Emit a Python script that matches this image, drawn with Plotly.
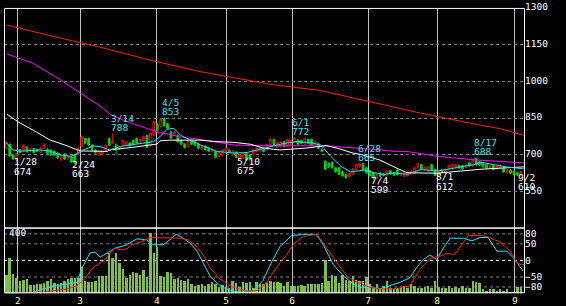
import plotly.graph_objects as go

# ---------------- data ----------------
opens = [727,743,699,679,721,715,731,717,725,721,711,727,723,719,715,707,679,703,683,691,
         699,703,734,767,767,740,720,700,704,717,767,747,741,723,739,741,749,759,767,747,
         759,779,739,779,827,815,849,827,793,780,779,759,743,734,760,753,743,724,735,727,
         714,714,694,700,714,719,699,711,680,687,707,700,701,714,716,727,721,741,763,731,
         734,754,734,743,752,760,758,744,763,763,741,744,723,674,665,670,647,647,631,620,
         611,621,640,651,664,647,635,627,603,625,622,617,635,625,639,618,613,615,621,624,
         647,660,640,634,660,640,620,638,625,643,648,650,657,656,648,668,655,686,671,667,
         660,647,656,643,647,647,627,638,633,627,620]
highs = [755,747,703,707,725,743,735,729,729,727,731,747,727,723,719,711,703,707,699,695,
         703,731,779,771,771,744,724,718,718,744,771,788,747,737,763,757,753,763,771,767,
         779,783,791,839,831,849,853,831,797,797,783,763,747,764,764,757,747,739,739,731,
         727,718,718,724,731,723,719,715,704,711,711,704,725,731,734,731,745,767,767,754,
         758,758,767,762,772,764,762,770,767,767,758,748,727,678,669,674,651,651,635,624,
         627,647,663,665,664,651,639,631,623,629,626,637,639,629,643,629,631,633,638,651,
         668,664,654,655,664,644,635,642,644,660,664,664,661,660,664,672,683,688,675,671,
         664,660,660,658,661,651,644,642,637,631,636]
lows = [723,691,679,674,705,711,709,713,705,711,707,723,703,695,695,683,675,679,679,667,
        663,699,731,743,736,716,705,696,700,713,736,743,700,719,735,737,733,739,745,743,
        755,727,735,775,797,811,815,805,765,776,749,739,726,730,739,736,723,720,717,711,
        710,686,690,696,710,707,695,686,675,683,676,677,697,710,712,710,717,737,737,727,
        730,730,730,739,748,740,743,740,743,737,737,723,710,637,646,643,627,616,611,603,
        607,617,636,647,636,623,611,599,601,609,612,613,619,613,615,614,609,611,617,620,
        643,639,636,630,636,613,612,624,621,639,644,646,643,639,644,651,651,656,654,647,
        643,643,636,639,643,626,623,622,616,613,610]
closes = [751,695,683,703,709,739,713,723,709,715,727,743,707,699,699,687,699,683,695,671,
          667,727,774,747,740,720,709,714,714,740,740,757,727,733,759,753,737,743,749,763,
          775,731,787,835,801,845,819,809,769,793,753,743,730,760,743,740,727,735,721,715,
          721,690,714,720,727,711,715,690,700,707,679,680,721,727,730,714,741,763,741,750,
          754,734,763,758,771,744,747,768,747,741,754,727,714,641,650,647,631,620,615,607,
          623,643,660,664,640,627,615,607,619,613,616,633,623,617,619,625,627,629,634,647,
          664,643,650,651,640,616,631,628,640,656,660,660,647,643,660,655,679,660,658,651,
          647,656,640,654,657,630,640,626,620,617,632]
volume = [123,242,134,105,88,95,101,57,55,62,66,73,84,101,73,66,73,84,101,105,
          105,105,182,84,80,80,88,117,117,117,270,242,270,204,165,105,123,143,138,127,
          160,110,407,270,314,117,110,143,138,101,105,95,88,101,62,51,57,62,51,66,
          77,62,44,57,44,40,84,73,44,77,73,77,40,77,66,66,73,84,77,77,
          73,51,77,51,51,51,57,51,62,66,62,66,73,227,84,127,117,73,127,95,
          88,117,95,84,88,110,62,40,66,40,51,84,40,29,40,40,51,40,62,51,
          40,40,44,51,40,84,44,40,40,51,40,44,40,51,40,40,84,80,73,29,
          18,29,29,18,29,15,29,13,13,44,44]

# moving averages (index position, price)
ma_short_idx = [0,2,4,9.8,12.7,15.7,18.6,20,22.4,25.3,27.3,30.2,33.1,36.1,39.9,42.8,44.8,46.9,48.9,50.8,
                53.8,56.7,61.5,66.4,70.3,75.1,81,84.8,88.7,91.7,94.6,97.5,100.4,104.3,107.2,110.1,113,116.9,120.8,125.7,
                130.5,136.3,138.3,142.2,146.1,150.9]
ma_short = [750,720,715,720,715,700,694,700,720,736,734,720,734,740,747,754,774,805,808,780,
            760,740,714,707,710,727,747,754,750,740,694,654,630,638,627,620,627,620,640,634,
            647,660,670,660,650,643]
ma_mid_idx = [0.2,4,7.8,12.7,17.7,21.5,29.4,30.2,36.9,41.9,43.9,44.8,47.7,56.5,61.4,66.4,71.3,75.1,79.8,87.6,
              93.4,97.3,101.1,103.3,108.9,113,116.8,125.6,131.4,138.1,150.9]
ma_mid = [866,830,801,761,737,716,714,720,731,740,744,757,760,760,754,751,743,727,720,728,
          738,724,707,702,679,651,627,625,631,641,651]
ma_long_idx = [0.2,7.8,15.7,21.5,27.3,30.2,33.2,36.9,43.9,50.6,56.5,66.4,75.1,87.6,95.3,103.1,108.9,113,116.8,125.6,
               136.1,150.9]
ma_long = [1112,1074,1007,954,900,867,847,827,794,774,763,740,737,737,735,726,721,714,714,694,
           680,667]
ma_xlong_idx = [0.2,12.7,27.3,41.9,56.5,77.5,91.5,103.1,108.9,120.6,136.1,144,150.9]
ma_xlong = [1230,1187,1140,1087,1040,987,963,927,907,871,827,807,780]

# oscillator (index position, value)
osc_a_idx = [0.2,2.5,7.8,10.7,14.8,17.7,20.6,22.1,24.4,25.9,27.3,29.4,31.7,34.6,38.1,41,42.8,45.7,47.7,49.5,
             51.2,53.6,55.6,57.1,59.4,62.3,65.2,68.1,71.9,74.8,77.5,79.8,83.2,87.6,90.5,92.4,95.3,98.3,101.2,103.1,
             106,108.9,111.9,114.8,117.7,119.6,121.6,123.5,125.5,127.4,129.4,133.2,135.7,138.1,140.5,143,145.9,147.8,150.7]
osc_a = [-99,-99,-96,-86,-76,-71,-66,-22,22,25,10,22,37,45,65,62,47,47,62,79,
         69,52,28,-2,-47,-76,-91,-96,-93,-61,-2,42,75,79,77,47,-12,-47,-71,-81,
         -81,-86,-76,-66,-52,-22,3,16,3,37,67,67,59,69,69,28,28,8,-32]
osc_b_idx = [2.5,10.7,17.7,20.6,22.4,25.3,28.2,30.2,31.7,33.2,35.2,36.6,39,41.9,47.7,50.6,53,55,57.3,59.4,
             62.3,66.1,70.2,73.1,76,77.5,79.8,81.8,83.7,86.6,90.5,93.4,96.3,99.2,102.2,106,108.9,112.8,115.7,117.7,
             120.6,123.5,126.4,128.4,130.8,132.8,134.7,138.1,140.1,144,146.9,148.8,149.8,150.9]
osc_b = [-97,-95,-86,-76,-61,-22,-2,22,37,32,35,47,55,69,69,67,62,47,18,-22,
         -56,-81,-93,-91,-66,-41,-7,18,49,72,79,37,-2,-47,-66,-81,-86,-86,-81,-76,
         -27,6,13,21,18,47,75,75,72,55,28,-7,-12,-12]

# labels
month_labels = ['2', '3', '4', '5', '6', '7', '8', '9']
month_pos = [3.4, 21.5, 43.9, 64.1, 83.3, 105.5, 125.6, 148.3]
price_ticks = [550, 700, 850, 1000, 1150, 1300]
osc_ticks = [80, 50, 0, -50, -80]
peak_labels = [("3/14", 31), ("4/5", 46), ("6/1", 84), ("6/28", 103), ("8/17", 137)]
trough_labels = [("1/28", 3), ("2/24", 20), ("5/10", 68), ("7/4", 107), ("8/1", 126), ("9/2", 150)]

# ---------------- figure ----------------
W, H = 566, 306
def fx(px): return px / W
def fy(py): return 1 - py / H

FONT = "DejaVu Sans Mono"
VOL_MAX = 440
OSC_LIM = 99
idx = list(range(len(closes)))
fig = go.Figure()

fig.add_trace(go.Bar(x=idx, y=volume, xaxis='x2', yaxis='y2', width=0.72,
                     marker=dict(color='#80c040', line_width=0)))
fig.add_trace(go.Scatter(x=osc_a_idx, y=osc_a, xaxis='x2', yaxis='y3', mode='lines',
                         line=dict(color='#00f0ff', width=1)))
fig.add_trace(go.Scatter(x=osc_b_idx, y=osc_b, xaxis='x2', yaxis='y3', mode='lines',
                         line=dict(color='#ff2000', width=1)))

fig.add_trace(go.Candlestick(x=idx, open=opens, high=highs, low=lows, close=closes,
                             xaxis='x', yaxis='y', whiskerwidth=0,
                             increasing=dict(line=dict(color='#ff0000', width=1), fillcolor='#000000'),
                             decreasing=dict(line=dict(color='#00d800', width=1), fillcolor='#00d800')))
for xs, ys, col in [(ma_xlong_idx, ma_xlong, '#ff2000'), (ma_long_idx, ma_long, '#ff00ff'),
                    (ma_mid_idx, ma_mid, '#ffffff'), (ma_short_idx, ma_short, '#00f0ff')]:
    fig.add_trace(go.Scatter(x=xs, y=ys, xaxis='x', yaxis='y', mode='lines',
                             line=dict(color=col, width=1)))

annotations = []
for txt, i in peak_labels:
    for t, dy in [(txt, 15), (str(highs[i]), 6)]:
        annotations.append(dict(x=i, y=highs[i], xref='x', yref='y', text=t, showarrow=False,
                                xanchor='left', yanchor='middle', xshift=-3, yshift=dy, borderpad=0,
                                font=dict(family=FONT, size=9.5, color='#40e8f0')))
for txt, i in trough_labels:
    for t, dy in [(txt, -0.5), (str(lows[i]), -10)]:
        annotations.append(dict(x=i, y=lows[i], xref='x', yref='y', text=t, showarrow=False,
                                xanchor='left', yanchor='middle', xshift=-3.5, yshift=dy, borderpad=0,
                                font=dict(family=FONT, size=9.5, color='#ffffff')))
annotations.append(dict(x=fx(8), y=400, xref='paper', yref='y2', text='400', showarrow=False,
                        xanchor='left', yanchor='middle', borderpad=0, yshift=1,
                        font=dict(family=FONT, size=9.5, color='#ffffff')))

xr = [-0.67, 150.93]
shapes = []
# oscillator grid lines (drawn under the bars), expressed in the volume axis of the same panel
for v in osc_ticks:
    yv = (v + OSC_LIM) / (2 * OSC_LIM) * VOL_MAX
    shapes.append(dict(type='line', xref='x2', yref='y2', x0=xr[0], x1=xr[1], y0=yv, y1=yv,
                       layer='below',
                       line=dict(color='#ffffff' if v == 0 else '#808080', width=1, dash='3px,3px')))
shapes += [
    dict(type='rect', xref='paper', yref='paper', x0=fx(4.5), x1=fx(524.5), y0=fy(226.5), y1=fy(2.5),
         line=dict(color='#ffffff', width=1), layer='above'),
    dict(type='rect', xref='paper', yref='paper', x0=fx(4.5), x1=fx(524.5), y0=fy(292.5), y1=fy(226.5),
         line=dict(color='#ffffff', width=1), layer='above'),
]

common_x = dict(domain=[fx(4), fx(524)], range=xr, tickmode='array', tickvals=month_pos,
                showgrid=True, gridcolor='#c0c0c0', gridwidth=1, zeroline=False, showline=False,
                ticks='', fixedrange=True)
fig.update_layout(
    width=W, height=H, margin=dict(l=0, r=0, t=0, b=0),
    paper_bgcolor='#000000', plot_bgcolor='rgba(0,0,0,0)', showlegend=False, bargap=0,
    xaxis=dict(**common_x, anchor='y', showticklabels=False, rangeslider=dict(visible=False)),
    xaxis2=dict(**common_x, anchor='y2', matches='x', ticktext=month_labels, showticklabels=True,
                tickfont=dict(family=FONT, size=9.5, color='#ffff99')),
    yaxis=dict(domain=[fy(226), fy(1.8)], range=[403, 1300.8], anchor='x', side='right',
               tickmode='array', tickvals=price_ticks, showgrid=True, gridcolor='#808080',
               griddash='3px,3px', zeroline=False, ticks='', ticklabelshift=-1,
               ticklabeloverflow='allow',
               tickfont=dict(family=FONT, size=9.5, color='#ffffff')),
    yaxis2=dict(domain=[fy(293), fy(226)], range=[0, VOL_MAX], anchor='x2', visible=False),
    yaxis3=dict(overlaying='y2', range=[-OSC_LIM, OSC_LIM], anchor='x2', side='right',
                tickmode='array', tickvals=osc_ticks, showgrid=False, zeroline=False, ticks='',
                tickfont=dict(family=FONT, size=9.5, color='#ffffff')),
    annotations=annotations, shapes=shapes,
)
fig.write_html("out.html")
